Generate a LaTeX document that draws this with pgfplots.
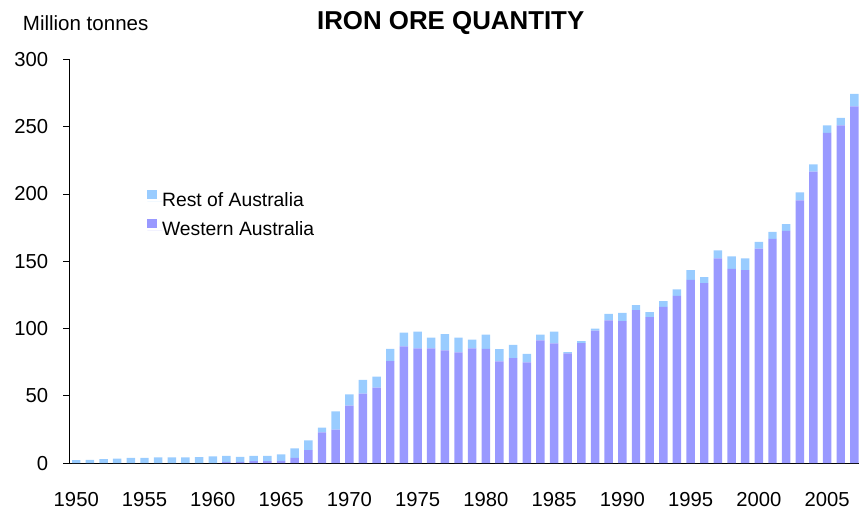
\documentclass[border=0pt]{standalone}
\usepackage{pgfplots}
\pgfplotsset{compat=1.18}
\usepackage{fontspec}
\setmainfont{Liberation Sans}
\definecolor{wa}{HTML}{9999FF}
\definecolor{rest}{HTML}{99CCFF}
\begin{document}
\begin{tikzpicture}
\begin{axis}[
  scale only axis,
  width=592.1pt, height=303pt,
  xmin=1949.5, xmax=2007.3,
  ymin=0, ymax=300,
  ybar stacked, bar width=0.62,
  axis x line*=bottom, axis y line*=left,
  axis line style={line width=0.75pt},
  xtick={1950,1955,...,2005},
  xticklabels={1950,1955,1960,1965,1970,1975,1980,1985,1990,1995,2000,2005},
  major x tick style={draw=none},
  extra x ticks={1949.5,1954.5,1959.5,1964.5,1969.5,1974.5,1979.5,1984.5,1989.5,1994.5,1999.5,2004.5},
  extra x tick labels={},
  extra x tick style={major tick length=4.5pt, tick align=outside, tick style={black, line width=0.75pt}},
  ytick={0,50,...,300},
  tick align=outside, major tick length=4.5pt,
  tick style={black, line width=0.75pt},
  ticklabel style={font=\fontsize{15.2}{17}\selectfont},
  /pgf/number format/assume math mode=true,
  xticklabel style={yshift=-14pt},
  yticklabel style={xshift=-8pt},
  clip=false,
  legend style={draw=none, fill=none, at={(0.0985,0.677)}, anchor=north west,
    font=\fontsize{14.5}{16}\selectfont, row sep=6.3pt, inner sep=0pt,
    nodes={inner sep=0pt, text height=10.5pt, text depth=3pt}},
  legend cell align=left,
  reverse legend,
  legend image code/.code={\fill[#1] (0pt,1.5pt) rectangle (7pt,8.5pt); \path (0pt,0pt) -- (11pt,0pt);},
]
\addplot[fill=wa, draw=none] coordinates {
(1950,0) (1951,0) (1952,0) (1953,0) (1954,0) (1955,0) (1956,0) (1957,0) (1958,0) (1959,0)
(1960,0) (1961,1) (1962,1) (1963,1.5) (1964,1.5) (1965,1.7) (1966,4) (1967,9.7) (1968,22.9) (1969,24.9)
(1970,42.8) (1971,51.7) (1972,56.2) (1973,75.9) (1974,86.8) (1975,85.3) (1976,85.3) (1977,83.8) (1978,82.3) (1979,85.3)
(1980,85) (1981,75.6) (1982,78.1) (1983,74.9) (1984,91.3) (1985,89) (1986,81.6) (1987,89.3) (1988,98.5) (1989,106.2)
(1990,105.5) (1991,113.7) (1992,108.5) (1993,116.2) (1994,124.4) (1995,136.3) (1996,133.8) (1997,152.2) (1998,144.3) (1999,143.5)
(2000,159.5) (2001,166.7) (2002,172.6) (2003,195.3) (2004,216.7) (2005,245.5) (2006,251) (2007,265.2)
};
\addlegendentry{Western Australia}
\addplot[fill=rest, draw=none] coordinates {
(1950,2.3) (1951,2.5) (1952,3) (1953,3.5) (1954,4) (1955,4) (1956,4.3) (1957,4.3) (1958,4.3) (1959,4.5)
(1960,5) (1961,4.4) (1962,3.7) (1963,4) (1964,4) (1965,4.8) (1966,7) (1967,7.3) (1968,3.5) (1969,13.7)
(1970,8.4) (1971,10.3) (1972,8.2) (1973,9.1) (1974,10.2) (1975,12.5) (1976,8) (1977,12.2) (1978,11) (1979,6.5)
(1980,10.5) (1981,9.2) (1982,9.9) (1983,6.4) (1984,4.2) (1985,8.8) (1986,1) (1987,1.5) (1988,1.5) (1989,4.8)
(1990,6.2) (1991,3.7) (1992,3.7) (1993,4.2) (1994,4.7) (1995,7.2) (1996,4.5) (1997,6) (1998,9.4) (1999,8.7)
(2000,4.9) (2001,5.2) (2002,5) (2003,6) (2004,5.4) (2005,5.5) (2006,5.5) (2007,9.2)
};
\addlegendentry{Rest of Australia}
\node[anchor=base, inner sep=0pt, font=\bfseries\fontsize{19.4}{22}\selectfont] at ([yshift=22.6pt]rel axis cs:0.4832,1) {IRON ORE QUANTITY};
\node[anchor=base west, inner sep=0pt, font=\fontsize{15.4}{17}\selectfont] at ([xshift=-35.1pt, yshift=21.4pt]rel axis cs:0,1) {Million tonnes};
\path ([xshift=-52.1pt, yshift=-36.4pt]rel axis cs:0,0) rectangle ([yshift=44.6pt]rel axis cs:1,1);
\end{axis}
\end{tikzpicture}
\end{document}
